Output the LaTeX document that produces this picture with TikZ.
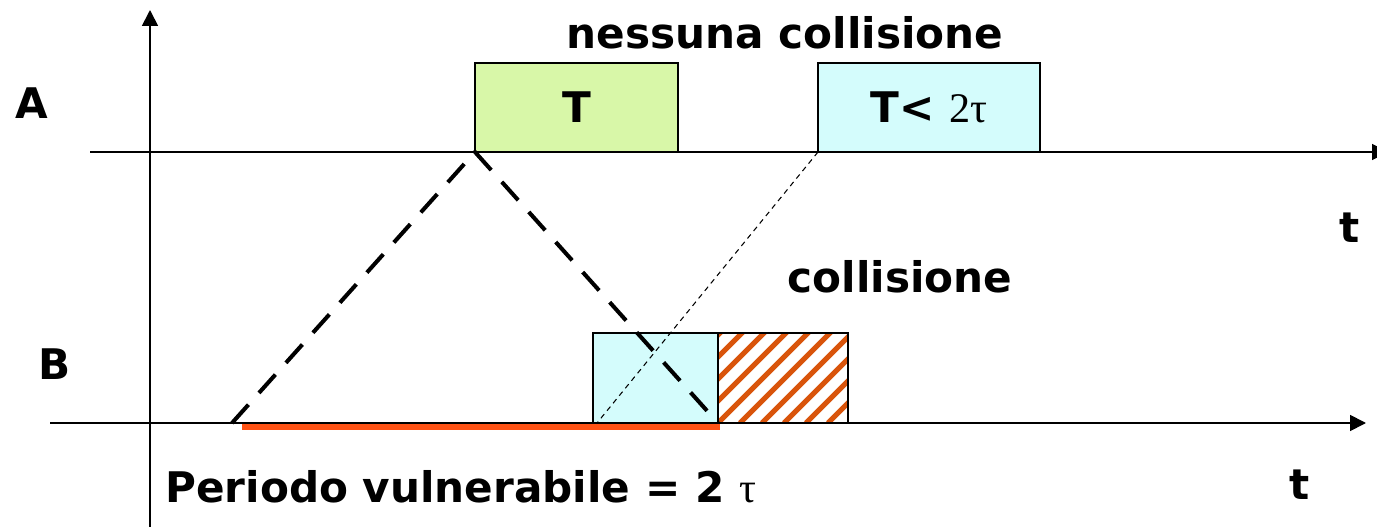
\documentclass[tikz,border=0pt]{standalone}
\usepackage{fontspec}
\setmainfont{DejaVu Sans}
\newfontfamily\taufont{Liberation Serif}
\usetikzlibrary{arrows.meta,positioning}

\definecolor{boxgreen}{HTML}{D8F7A8}
\definecolor{boxcyan}{HTML}{D4FCFC}
\definecolor{stripeorange}{HTML}{D9540B}
\definecolor{vulnred}{HTML}{FF5214}

\begin{document}
\begin{tikzpicture}[
    x=0.02cm, y=-0.02cm,
    axis/.style={line width=1pt, -{Triangle[length=3.2mm, width=3.2mm]}},
    frame/.style={
        draw,
        line width=1pt,
        anchor=south west,
        inner sep=0pt,
        outer sep=0pt,
        minimum height=1.78cm,
        font=\fontsize{24}{28}\selectfont\bfseries
    },
    lbl/.style={font=\fontsize{24}{28}\selectfont\bfseries, inner sep=0pt},
    stripe/.style={stripeorange, line width=3pt},
    signal/.style={line width=2.3pt, dash pattern=on 14pt off 9pt},
    echo/.style={line width=0.6pt, dash pattern=on 3pt off 2.5pt},
    vuln/.style={vulnred, line width=3.4pt},
    ]

    \useasboundingbox (0,0) rectangle (1377,527);

    % axes
    \coordinate (ybot) at (150,530);
    \coordinate (ytop) at (150,10);
    \coordinate (Abeg) at (90,152);
    \coordinate (Aend) at (1388,152);
    \coordinate (Bbeg) at (50,423);
    \coordinate (Bend) at (1366,423);
    \draw[axis] (ybot) -- (ytop);
    \draw[axis] (Abeg) -- (Aend);
    \draw[axis] (Bbeg) -- (Bend);

    % frames on A
    \node[frame, fill=boxgreen, minimum width=4.06cm] (frameT) at (475,152) {T};
    \node[frame, fill=boxcyan, minimum width=4.44cm] (frameT2) at (818,152)
        {T< {\taufont\mdseries 2τ}};

    % frames on B
    \node[frame, fill=boxcyan, minimum width=2.5cm, minimum height=1.8cm] (frameB) at (593,423) {};
    \node[frame, fill=white, minimum width=2.6cm, minimum height=1.8cm,
        path picture={
            \foreach \k in {-6,...,6}
                \draw[stripe] (path picture bounding box.south west) ++(\k*22,0) -- ++(110,-110);
        }] (hatch) at (frameB.south east) {};
    \draw[line width=1pt] (hatch.south west) rectangle (hatch.north east);

    % propagation
    \coordinate (sigB) at (232,423);
    \coordinate (echoB) at (597,423);
    \draw[signal] (sigB) -- (frameT.south west) -- (hatch.south west);
    \draw[echo] (frameT2.south west) -- (echoB);

    % vulnerable period
    \coordinate (vbeg) at (242,427);
    \coordinate (vend) at (720,427);
    \draw[vuln] (vbeg) -- (vend);

    % labels
    \node[lbl] (labA) at (32,103) {A};
    \node[lbl] (labB) at (55,364) {B};
    \node[lbl] (tA) at (1350,228) {t};
    \node[lbl] (tB) at (1300,485) {t};
    \node[lbl] (none) at (785,33) {nessuna collisione};
    \node[lbl] (coll) at (900,277) {collisione};
    \node[lbl, anchor=west] (period) at (165,487)
        {Periodo vulnerabile = 2 {\taufont\mdseries τ}};
\end{tikzpicture}
\end{document}
